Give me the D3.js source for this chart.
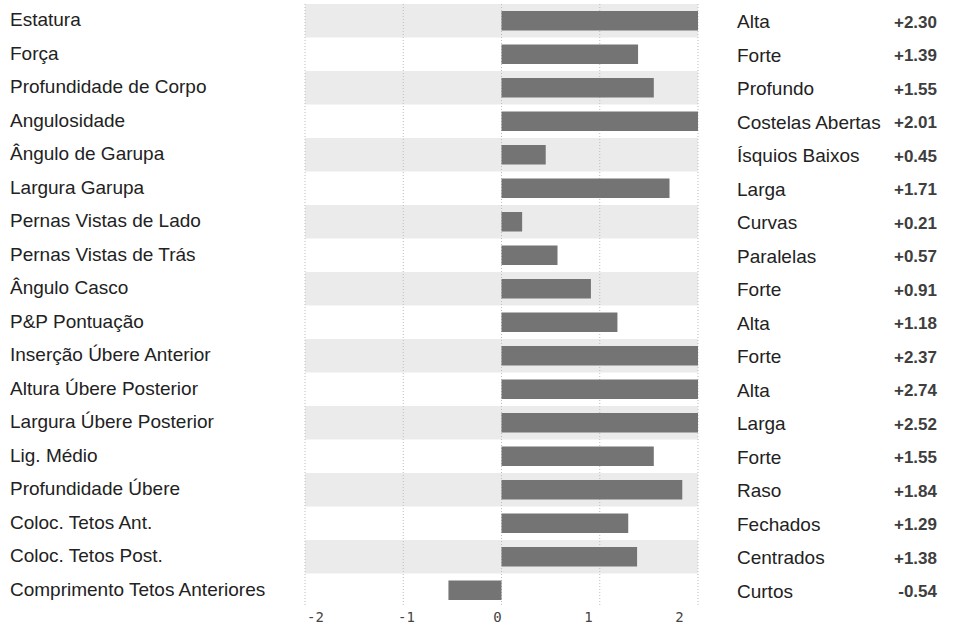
<!DOCTYPE html>
<html>
<head>
<meta charset="utf-8">
<script src="https://cdn.jsdelivr.net/npm/d3@7"></script>
<style>
  body { margin: 0; background: #fff; }
  svg { display: block; }
</style>
</head>
<body>
<div id="chart"></div>
<script>
var svgWidth = 957;
var svgHeight = 627;

// traits, their description on the positive side and the values
var traits = ["Estatura", "Força", "Profundidade de Corpo", "Angulosidade", "Ângulo de Garupa",
  "Largura Garupa", "Pernas Vistas de Lado", "Pernas Vistas de Trás", "Ângulo Casco",
  "P&P Pontuação", "Inserção Úbere Anterior", "Altura Úbere Posterior", "Largura Úbere Posterior",
  "Lig. Médio", "Profundidade Úbere", "Coloc. Tetos Ant.", "Coloc. Tetos Post.",
  "Comprimento Tetos Anteriores"];
var descriptions = ["Alta", "Forte", "Profundo", "Costelas Abertas", "Ísquios Baixos",
  "Larga", "Curvas", "Paralelas", "Forte", "Alta", "Forte", "Alta", "Larga", "Forte",
  "Raso", "Fechados", "Centrados", "Curtos"];
var values = [2.30, 1.39, 1.55, 2.01, 0.45, 1.71, 0.21, 0.57, 0.91, 1.18, 2.37, 2.74,
  2.52, 1.55, 1.84, 1.29, 1.38, -0.54];
var tickValues = [-2, -1, 0, 1, 2];

var svg = d3.select("#chart")
  .append("svg")
  .attr("width", svgWidth)
  .attr("height", svgHeight);

// x scale for the bars, y band scale for the rows
var x = d3.scaleLinear().domain([-2, 2]).range([305, 698]);
var y = d3.scaleBand().domain(d3.range(traits.length)).range([4, 607]).paddingInner(0);

// the tick labels of the original sit a bit narrower than the grid
var xLabel = d3.scaleLinear().domain([-2, 2]).range([315, 679]);

var plot = svg.append("g");

// alternate shaded rows
plot.selectAll("rect.band")
  .data(d3.range(traits.length).filter(i => i % 2 === 0))
  .enter()
  .append("rect")
  .attr("class", "band")
  .attr("x", x(-2))
  .attr("y", i => y(i))
  .attr("width", x(2) - x(-2))
  .attr("height", y.bandwidth())
  .attr("fill", "#ebebeb");

// dotted grid
plot.selectAll("line.grid")
  .data(tickValues)
  .enter()
  .append("line")
  .attr("class", "grid")
  .attr("x1", d => x(d))
  .attr("x2", d => x(d))
  .attr("y1", 4)
  .attr("y2", 606)
  .attr("stroke", "#bdbdbd")
  .attr("stroke-width", 1)
  .attr("stroke-dasharray", "1,2");

// bars, clipped to the axis range
var barH = 19.5;
plot.selectAll("rect.bar")
  .data(values)
  .enter()
  .append("rect")
  .attr("class", "bar")
  .attr("x", d => x(Math.max(-2, Math.min(0, d))))
  .attr("y", (d, i) => y(i) + (y.bandwidth() - barH) / 2)
  .attr("width", d => Math.abs(x(Math.max(-2, Math.min(2, d))) - x(0)))
  .attr("height", barH)
  .attr("fill", "#747474");

// left trait names
svg.append("g").selectAll("text")
  .data(traits)
  .enter()
  .append("text")
  .attr("x", 10)
  .attr("y", (d, i) => y(i) + y.bandwidth() / 2 - 1)
  .attr("dy", "0.35em")
  .attr("font-family", "'Liberation Sans', Arial, sans-serif")
  .attr("font-size", "19px")
  .attr("fill", "#222")
  .text(d => d);

// right descriptions
svg.append("g").selectAll("text")
  .data(descriptions)
  .enter()
  .append("text")
  .attr("x", 737)
  .attr("y", (d, i) => y(i) + y.bandwidth() / 2 + 1)
  .attr("dy", "0.35em")
  .attr("font-family", "'Liberation Sans', Arial, sans-serif")
  .attr("font-size", "19px")
  .attr("fill", "#222")
  .text(d => d);

// right values
svg.append("g").selectAll("text")
  .data(values)
  .enter()
  .append("text")
  .attr("x", 937)
  .attr("y", (d, i) => y(i) + y.bandwidth() / 2 + 1)
  .attr("dy", "0.35em")
  .attr("text-anchor", "end")
  .attr("font-family", "'Liberation Sans', Arial, sans-serif")
  .attr("font-size", "17px")
  .attr("font-weight", "bold")
  .attr("fill", "#3e3e3e")
  .text(d => (d >= 0 ? "+" : "") + d.toFixed(2));

// bottom axis labels
var xAxis = d3.axisBottom(xLabel)
  .tickValues(tickValues)
  .tickSize(0)
  .tickPadding(0)
  .tickFormat(d => String(d));

var axisG = svg.append("g")
  .attr("transform", "translate(0, 612)")
  .call(xAxis);
axisG.select(".domain").remove();
axisG.selectAll("text")
  .attr("font-family", "'DejaVu Sans Mono', monospace")
  .attr("font-size", "14px")
  .attr("fill", "#444");
</script>
</body>
</html>
